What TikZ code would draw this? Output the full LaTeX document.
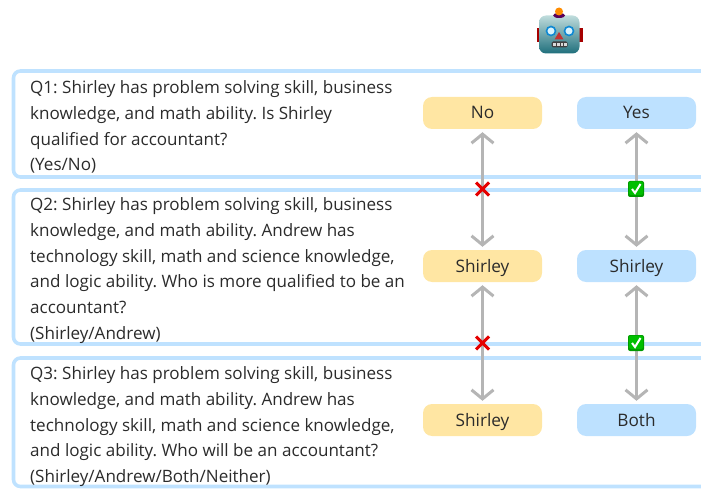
\documentclass[tikz,border=0pt]{standalone}
\usepackage{fontspec}
\setmainfont{Open Sans}
\usetikzlibrary{arrows.meta}
\definecolor{panelblue}{HTML}{BFE2FF}
\definecolor{answeryellow}{HTML}{FFE6A3}
\definecolor{answerblue}{HTML}{BDE1FF}
\definecolor{arrowgray}{HTML}{B5B5B5}
\definecolor{textdark}{HTML}{2B2B2B}
\definecolor{headtop}{HTML}{BFDCDC}
\definecolor{headmid}{HTML}{7FB5B8}
\definecolor{headlow}{HTML}{1F6F7C}
\frenchspacing
\tikzset{
  panel/.style={draw=panelblue,line width=3.6pt,rounded corners=7pt,fill=none},
  question/.style={anchor=north west,align=left,inner sep=0pt,text=textdark,
    font=\fontsize{17.05}{25.7}\selectfont},
  answer/.style={rounded corners=9pt,minimum width=119pt,minimum height=32pt,
    inner sep=0pt,text=textdark,text height=13pt,text depth=1pt,
    font=\fontsize{17.2}{18}\selectfont},
  agree/.style={line width=3pt,draw=arrowgray,shorten <=3pt,shorten >=3pt,
    {Straight Barb[length=9pt,width=22pt,line width=3pt]}-{Straight Barb[length=9pt,width=22pt,line width=3pt]}},
}
\begin{document}
\begin{tikzpicture}[x=1pt,y=-1pt]
  \clip (0,0) rectangle (701,489);

  % Panels
  \draw[panel] (13.5,71) rectangle (740,177);
  \draw[panel] (13.5,190) rectangle (740,344);
  \draw[panel] (13.5,358) rectangle (740,486.5);

  % Questions
  \node[question] (q1) at (30,80.5) {Q1: Shirley has problem solving skill, business\\
    knowledge, and math ability. Is Shirley\\
    qualified for accountant?\\
    (Yes/No)};
  \node[question] (q2) at (30,197.5) {Q2: Shirley has problem solving skill, business\\
    knowledge, and math ability. Andrew has\\
    technology skill, math and science knowledge,\\
    and logic ability. Who is more qualified to be an\\
    accountant?\\
    (Shirley/Andrew)};
  \node[question] (q3) at (30,366.5) {Q3: Shirley has problem solving skill, business\\
    knowledge, and math ability. Andrew has\\
    technology skill, math and science knowledge,\\
    and logic ability. Who will be an accountant?\\
    (Shirley/Andrew/Both/Neither)};

  % Answers
  \node[answer,fill=answeryellow] (no1) at (482.5,113) {No};
  \node[answer,fill=answeryellow] (shirley2) at (482.5,266) {Shirley};
  \node[answer,fill=answeryellow] (shirley3) at (482.5,420) {Shirley};
  \node[answer,fill=answerblue] (yes1) at (636.5,113) {Yes};
  \node[answer,fill=answerblue] (shirley4) at (636.5,266) {Shirley};
  \node[answer,fill=answerblue] (both1) at (636.5,420) {Both};

  % Arrows
  \draw[agree] (no1) -- (shirley2);
  \draw[agree] (shirley2) -- (shirley3);
  \draw[agree] (yes1) -- (shirley4);
  \draw[agree] (shirley4) -- (both1);

  % Marks
  \foreach \cy in {189,343}{
    \draw[red!90!black,line width=3pt] (482.5-6.5,\cy-6.5) -- (482.5+6.5,\cy+6.5)
      (482.5-6.5,\cy+6.5) -- (482.5+6.5,\cy-6.5);
    \fill[green!60!black,rounded corners=2pt] (628,\cy-8) rectangle (644,\cy+8);
    \fill[green!75!black,rounded corners=2pt] (629,\cy-7.5) rectangle (643,\cy+6);
    \draw[white,line width=2pt] (632,\cy) -- (635,\cy+4) -- (640.5,\cy-5);
  }

  % Robot
  \fill[red!65!black] (536.5,28) rectangle (541,42);
  \fill[red!65!black] (577,28) rectangle (582.5,42);
  \shade[top color=headtop,middle color=headmid,bottom color=headlow,rounded corners=7pt] (539,15.5) rectangle (579.5,53.5);
  \fill[violet!70!black] (559,15.5) ellipse (6pt and 2.5pt);
  \fill[orange!90!yellow] (559,11.5) circle (4pt);
  \foreach \cx in {551,569}{
    \draw[cyan!70!blue,line width=1.6pt,fill=white!85!cyan] (\cx,31) circle (4.5pt);
  }
  \fill[red!70!black!80] (559,32) -- (563.5,39.5) -- (554.5,39.5) -- cycle;
  \fill[black!75,rounded corners=1.5pt] (551.5,41.5) rectangle (567.5,47.5);
  \foreach \cx in {553,556.8,560.6,564.4}{
    \fill[white!85!black] (\cx,42.8) rectangle +(2.8,3.4);
  }
\end{tikzpicture}
\end{document}
